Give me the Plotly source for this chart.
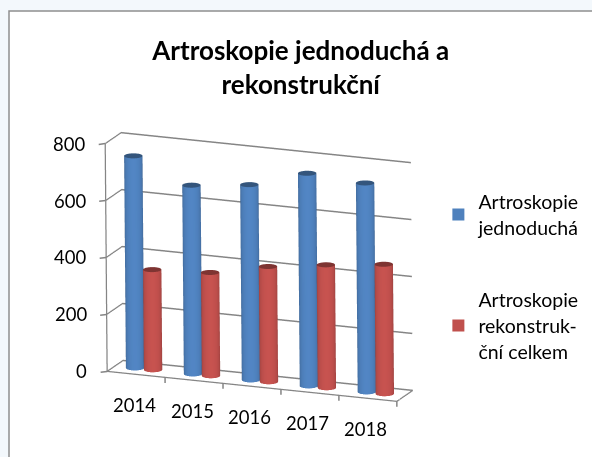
import numpy as np
import plotly.graph_objects as go

years = ["2014", "2015", "2016", "2017", "2018"]
simple = [745, 663, 686, 747, 734]
recon = [352, 363, 405, 432, 455]
name_a = "Artroskopie<br>jednoduchá"
name_b = "Artroskopie<br>rekonstruk-<br>ční celkem"
z_ticks = [0, 200, 400, 600, 800]

BLUE = np.array([79, 129, 189])
RED = np.array([192, 80, 77])
GRID = "#858585"
ZOOM = 1.645
ASPECT = dict(x=1 * ZOOM, y=0.136 * ZOOM, z=0.758 * ZOOM)
RAD_X = 0.147
RAD_Y = RAD_X * 0.2 / 0.136
YC = 0.5
EYE = np.array([0.363, -0.891, 0.275])
DIST = 2.0
VIEW = EYE[:2] / np.linalg.norm(EYE[:2])


def rgb(c):
    return "rgb(%d,%d,%d)" % tuple(np.clip(c, 0, 255).astype(int))


def cylinder(cx, height, base):
    n = 48
    th = np.linspace(0, 2 * np.pi, n, endpoint=False)
    px = cx + RAD_X * np.cos(th)
    py = YC + RAD_Y * np.sin(th)
    facing = np.clip(np.cos(th) * VIEW[0] + np.sin(th) * VIEW[1], 0, 1)
    shade = 0.68 + 0.36 * facing ** 0.55
    x = np.r_[px, px, px, cx]
    y = np.r_[py, py, py, YC]
    z = np.r_[np.zeros(n), np.full(n, height), np.full(n, height), height]
    cols = [rgb(base * s) for s in shade] * 2 + [rgb(base * 0.66)] * (n + 1)
    i, j, k = [], [], []
    for a in range(n):
        b = (a + 1) % n
        i += [a, a, 2 * n + a]
        j += [b, n + b, 2 * n + b]
        k += [n + b, n + a, 3 * n]
    return go.Mesh3d(x=x, y=y, z=z, i=i, j=j, k=k, vertexcolor=cols, flatshading=False,
                     lighting=dict(ambient=1, diffuse=0, specular=0, roughness=1, fresnel=0),
                     hoverinfo="skip", showlegend=False)


fig = go.Figure()
for idx, (a, b) in enumerate(zip(simple, recon)):
    fig.add_trace(cylinder(idx - 0.155, a, BLUE))
    fig.add_trace(cylinder(idx + 0.155, b, RED))

xmin, xmax = -0.5, len(years) - 0.5
fig.add_trace(go.Scatter3d(x=[xmin, xmin, xmax, xmax], y=[0, 0, 0, 1], z=[z_ticks[-1], 0, 0, 0],
                           mode="lines", line=dict(color=GRID, width=2.5), hoverinfo="skip", showlegend=False))


def legend_text(nm, size=19.5):
    return "<br>".join('<span style="font-size:%spx">%s</span>' % (size, p) for p in nm.split("<br>"))


for nm, col, grp in ((name_a, BLUE, "a"), (name_b, RED, "b")):
    fig.add_trace(go.Scatter3d(x=[None], y=[None], z=[None], mode="markers", name=legend_text(nm),
                               legendgroup=grp,
                               marker=dict(symbol="square", size=12, color=rgb(col))))

notes = []
for v in z_ticks:
    notes.append(dict(x=xmin, y=0, z=v, text=str(v), showarrow=False, xanchor="right", yanchor="middle",
                      xshift=-18, font=dict(size=18.5, family="Lato", color="#000000")))
    notes.append(dict(x=xmin, y=0, z=v, text="", showarrow=True, arrowhead=0, arrowwidth=1.5, arrowcolor=GRID,
                      ax=-8, ay=1))
for idx, yr in enumerate(years):
    notes.append(dict(x=idx, y=0, z=0, text=yr, showarrow=False, xanchor="center", yanchor="middle",
                      xshift=-2, yshift=-31, font=dict(size=18.5, family="Lato", color="#000000")))
for idx in range(1, len(years) + 1):
    notes.append(dict(x=xmin + idx, y=0, z=0, text="", showarrow=True, arrowhead=0, arrowwidth=1.5, arrowcolor=GRID,
                      ax=0, ay=7))

axis_common = dict(showbackground=False, showspikes=False, zeroline=False, title=dict(text=""))
title_text = "Artroskopie jednoduchá a<br>rekonstrukční"
fig.update_layout(
    width=592, height=457, margin=dict(l=0, r=0, t=0, b=0),
    paper_bgcolor="#f3f8fc",
    font=dict(family="Lato", color="#000000"),
    title=dict(text=title_text, x=0.508, xanchor="center", y=0.868, yanchor="top",
               font=dict(size=26, family="Lato", color="#000000", weight="bold")),
    showlegend=True,
    legend=dict(x=0.7405, y=0.602, xanchor="left", yanchor="top", bgcolor="rgba(0,0,0,0)",
                font=dict(size=20, family="Lato"), tracegroupgap=43, itemsizing="constant"),
    shapes=[dict(type="rect", xref="paper", yref="paper", x0=9 / 592, x1=1.05, y0=-0.05, y1=1 - 11 / 457,
                 fillcolor="white", line=dict(color="#8e8e8e", width=1.5), layer="below")],
    scene=dict(
        domain=dict(x=[0, 0.875], y=[0, 0.8315]),
        aspectmode="manual", aspectratio=ASPECT,
        camera=dict(eye=dict(x=EYE[0] * DIST, y=EYE[1] * DIST, z=EYE[2] * DIST),
                    up=dict(x=-0.096, y=0.258, z=0.961), center=dict(x=0, y=0, z=0),
                    projection=dict(type="orthographic")),
        annotations=notes,
        xaxis=dict(range=[xmin, xmax], showgrid=False, showticklabels=False, ticks="", **axis_common),
        yaxis=dict(range=[0, 1], showgrid=False, showticklabels=False, ticks="", **axis_common),
        zaxis=dict(range=[0, 800], tickmode="array", tickvals=z_ticks, showgrid=True, gridcolor=GRID, gridwidth=3,
                   showticklabels=False, ticks="", **axis_common),
    ),
)
fig.write_html("out.html", config=dict(displayModeBar=False), post_script="document.body.style.margin='0';")
